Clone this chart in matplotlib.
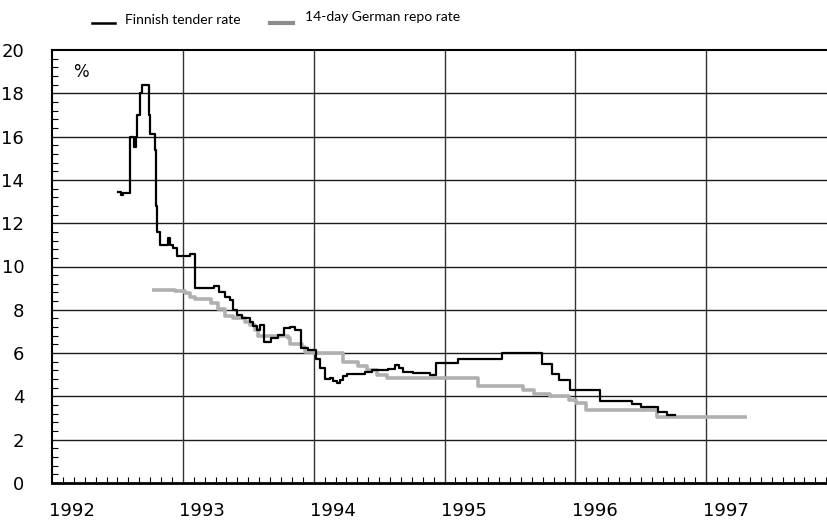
import matplotlib
matplotlib.use("Agg")
import matplotlib.pyplot as plt
from matplotlib import font_manager
from matplotlib.lines import Line2D
from matplotlib.transforms import ScaledTranslation
import numpy as np

# Finnish tender rate (decimal year, %)
finnish_dates = [1992.506, 1992.527, 1992.544, 1992.595, 1992.626, 1992.641, 1992.653,
                 1992.672, 1992.687, 1992.744, 1992.752, 1992.786, 1992.792, 1992.802,
                 1992.824, 1992.885, 1992.901, 1992.924, 1992.954, 1993.053, 1993.095,
                 1993.237, 1993.275, 1993.321, 1993.359, 1993.382, 1993.412, 1993.450,
                 1993.511, 1993.534, 1993.565, 1993.588, 1993.618, 1993.672, 1993.725,
                 1993.771, 1993.817, 1993.855, 1993.901, 1993.954, 1994.015, 1994.046,
                 1994.084, 1994.122, 1994.145, 1994.176, 1994.198, 1994.221, 1994.252,
                 1994.389, 1994.443, 1994.565, 1994.618, 1994.649, 1994.679, 1994.756,
                 1994.847, 1994.885, 1994.931, 1995.099, 1995.435, 1995.748, 1995.824,
                 1995.878, 1995.962, 1996.191, 1996.435, 1996.504, 1996.634, 1996.702,
                 1996.763]
finnish_rate = [13.45, 13.3, 13.4, 16.0, 15.5, 16.0, 17.0,
                18.0, 18.4, 17.0, 16.1, 15.4, 12.8, 11.6,
                11.0, 11.3, 11.0, 10.85, 10.5, 10.6, 9.0,
                9.1, 8.8, 8.6, 8.45, 8.0, 7.75, 7.6,
                7.45, 7.25, 7.05, 7.3, 6.5, 6.7, 6.85,
                7.15, 7.2, 7.05, 6.25, 6.15, 5.75, 5.3,
                4.8, 4.85, 4.7, 4.6, 4.77, 4.95, 5.05,
                5.15, 5.2, 5.25, 5.45, 5.3, 5.12, 5.08,
                5.1, 5.0, 5.55, 5.75, 6.0, 5.5, 5.05,
                4.78, 4.3, 3.77, 3.65, 3.52, 3.3, 3.15,
                3.15]

# 14-day German repo rate
german_dates = [1992.761, 1992.939, 1993.015, 1993.053, 1993.092, 1993.214, 1993.267,
                1993.321, 1993.382, 1993.473, 1993.511, 1993.550, 1993.573, 1993.802,
                1993.817, 1993.908, 1993.931, 1993.992, 1994.221, 1994.336, 1994.405,
                1994.481, 1994.557, 1995.252, 1995.603, 1995.687, 1995.802, 1995.954,
                1996.008, 1996.084, 1996.626, 1997.313]
german_rate = [8.9, 8.85, 8.77, 8.6, 8.5, 8.3, 8.05,
               7.7, 7.6, 7.45, 7.3, 7.05, 6.8, 6.7,
               6.4, 6.3, 6.05, 6.0, 5.6, 5.4, 5.2,
               5.0, 4.87, 4.5, 4.3, 4.1, 4.0, 3.85,
               3.7, 3.38, 3.05, 3.05]

years = [1992, 1993, 1994, 1995, 1996, 1997]
y_ticks = [0, 2, 4, 6, 8, 10, 12, 14, 16, 18, 20]

# narrow face for the legend if there is one
installed = {f.name for f in font_manager.fontManager.ttflist}
if 'Liberation Sans Narrow' in installed:
    legend_font, legend_size = 'Liberation Sans Narrow', 12
else:
    legend_font, legend_size = 'Lato', 10

fig = plt.figure(figsize=(8.28, 5.21), dpi=100)
ax = fig.add_axes([52 / 828, 1 - 483 / 521, 1 - 52 / 828, 433 / 521])

ax.plot(german_dates, german_rate, drawstyle='steps-post', color='#b0b0b0', lw=2.6,
        solid_capstyle='butt', zorder=3)
ax.plot(finnish_dates, finnish_rate, drawstyle='steps-post', color='black', lw=1.6,
        zorder=4)

ax.set_xlim(1992, 1997.93)
ax.set_ylim(0, 20)

# grid
for yv in y_ticks[1:-1]:
    ax.axhline(yv, color='#1a1a1a', lw=1.0, zorder=1)
for xv in years[1:]:
    ax.axvline(xv, color='#333333', lw=1.0, zorder=1)

ax.set_xticks(years)
ax.set_xticklabels([str(y) for y in years])
ax.set_xticks(np.arange(1992, 1998, 1 / 12), minor=True)
ax.tick_params(axis='x', which='major', length=0, pad=14, labelsize=13)
ax.tick_params(axis='x', which='minor', direction='in', length=4, width=0.8)
for lbl in ax.get_xticklabels():
    lbl.set_transform(lbl.get_transform() + ScaledTranslation(0.195, 0, fig.dpi_scale_trans))

ax.set_yticks(y_ticks)
ax.set_yticks(np.arange(0, 20.01, 0.4), minor=True)
ax.tick_params(axis='y', which='major', length=0, pad=20, labelsize=13)
ax.tick_params(axis='y', which='minor', direction='in', length=4, width=0.8)

ax.spines['right'].set_visible(False)
ax.spines['bottom'].set_linewidth(2.0)
ax.spines['left'].set_linewidth(1.5)
ax.spines['top'].set_linewidth(1.5)

ax.text(1992.22, 19.0, '%', fontsize=12, ha='center', va='center')

# legend drawn above the axes
fig.add_artist(Line2D([92 / 828, 115 / 828], [1 - 22.5 / 521] * 2, color='black', lw=1.8))
fig.text(125 / 828, 1 - 19.5 / 521, 'Finnish tender rate', fontsize=legend_size,
         family=legend_font, ha='left', va='center')
fig.add_artist(Line2D([270 / 828, 293 / 828], [1 - 23 / 521] * 2, color='#8c8c8c', lw=3.0))
fig.text(305 / 828, 1 - 17 / 521, '14-day German repo rate', fontsize=legend_size,
         family=legend_font, ha='left', va='center')

fig.savefig('out.png', dpi=100)
